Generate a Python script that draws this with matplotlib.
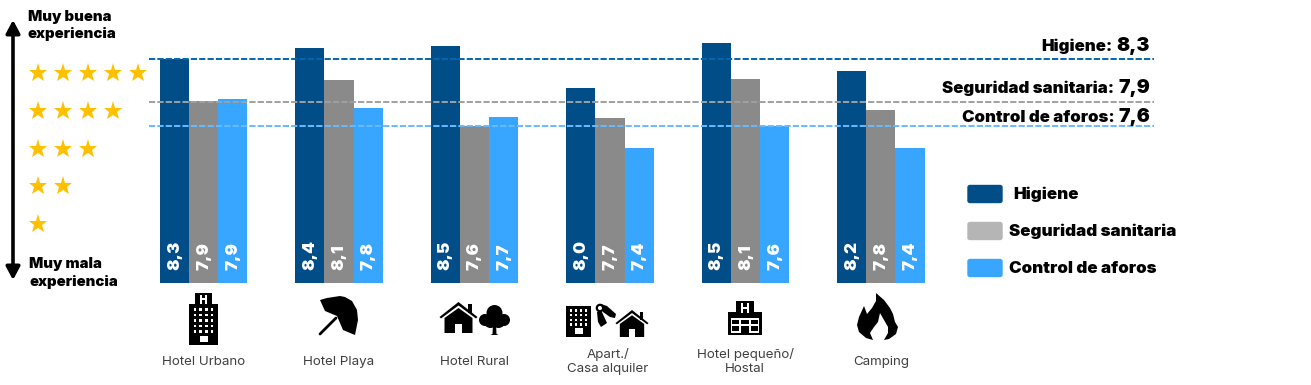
import matplotlib
matplotlib.use("Agg")
import matplotlib.pyplot as plt
from matplotlib.patches import Polygon, Rectangle, Circle, FancyBboxPatch

plt.rcParams['font.family'] = ['Inter', 'DejaVu Sans']

categories = ["Hotel Urbano", "Hotel Playa", "Hotel Rural", "Apart./\nCasa alquiler",
              "Hotel pequeño/\nHostal", "Camping"]
higiene = [8.30, 8.41, 8.43, 8.00, 8.46, 8.17]
seguridad = [7.86, 8.08, 7.60, 7.68, 8.09, 7.77]
aforos = [7.88, 7.79, 7.69, 7.37, 7.60, 7.37]
higiene_lbl = ["8,3", "8,4", "8,5", "8,0", "8,5", "8,2"]
seguridad_lbl = ["7,9", "8,1", "7,6", "7,7", "8,1", "7,8"]
aforos_lbl = ["7,9", "7,8", "7,7", "7,4", "7,6", "7,4"]
series = ["Higiene", "Seguridad sanitaria", "Control de aforos"]
averages = [8.3, 7.85, 7.6]
avg_lbl = ["8,3", "7,9", "7,6"]
star_rows = [5, 4, 3, 2, 1]

C = ["#004D88", "#8A8A8A", "#38A6FF"]
LINE = ["#0067B1", "#A0A0A0", "#66BBFF"]
LEG = ["#004D88", "#B5B5B5", "#38A6FF"]

W, H = 1311, 385
fig = plt.figure(figsize=(W / 100, H / 100), dpi=100)

# overlay in pixel coordinates
ov = fig.add_axes([0, 0, 1, 1], zorder=3)
ov.set_xlim(0, W); ov.set_ylim(H, 0); ov.axis('off'); ov.patch.set_alpha(0)

# data axes
L, R, T, B = 149, 1154, 0, 283
ax = fig.add_axes([L / W, 1 - B / H, (R - L) / W, (B - T) / H], zorder=1)
spacing, bw = 135.45, 29.2
ax.set_xlim((L - 203.6) / spacing, (R - 203.6) / spacing)
base = 5.965
ax.set_ylim(base, 7.6 + 126 / 96)
ax.axis('off')
w = bw / spacing
for i, (vals, lbls) in enumerate(zip([higiene, seguridad, aforos],
                                     [higiene_lbl, seguridad_lbl, aforos_lbl])):
    for k, (v, t) in enumerate(zip(vals, lbls)):
        x = k + (i - 1) * w
        ax.bar(x, v - base, bottom=base, width=w, color=C[i], linewidth=0, zorder=2)
        ax.annotate(t, (x, base), xytext=(0, 13), textcoords='offset pixels',
                    rotation=90, ha='center', va='bottom', color='white', fontsize=12.2,
                    fontweight='black', zorder=4)
for v, c in zip(averages, LINE):
    ax.axhline(v, color=c, lw=1.4, ls=(0, (3.2, 1.1)), zorder=3)

# average labels
for t, s, y in zip(avg_lbl, series, [51, 93, 122]):
    tx = ov.text(1150, y, t, ha='right', va='baseline', fontsize=14, fontweight='black', color='black')
    fig.canvas.draw()
    bb = tx.get_window_extent()
    ov.text(bb.x0 - 4, y, s + ":", ha='right', va='baseline', fontsize=12.1, fontweight='black', color='black')

# legend
for s, c, y, tx_x in zip(series, LEG, [194, 231, 268], [1013, 1009, 1009]):
    ov.add_patch(FancyBboxPatch((968, y - 8.5), 34, 17, boxstyle="round,pad=0,rounding_size=2",
                                fc=c, ec=c, lw=1))
    ov.text(tx_x, y + 5.3, s, ha='left', va='baseline', fontsize=12.2, fontweight='black', color='black')

# side labels, arrow and stars
ov.annotate("", xy=(13, 20), xytext=(13, 280),
            arrowprops=dict(arrowstyle='<|-|>,head_width=0.32,head_length=0.6', color='black', lw=2.6,
                            shrinkA=0, shrinkB=0, mutation_scale=13))
for y, t in [(20.5, "Muy buena"), (38, "experiencia"), (268, "Muy mala"), (286, "experiencia")]:
    ov.text(28 if y < 100 else 29, y, t, ha='left', va='baseline', fontsize=10.7, fontweight='black', color='black')
for r, n in enumerate(star_rows):
    for j in range(n):
        ov.plot(38 + 25 * j, 73 + 37.8 * r, marker='*', ms=14, color='#FFC000', mew=0, ls='none')

# category labels
for k, t in enumerate(categories):
    cx = 203.5 + spacing * k
    y = 362 if '\n' not in t else 361.5
    ov.text(cx + (0 if k != 3 else -2), y, t, ha='center', va='center', fontsize=9.6, color='#404040',
            linespacing=1.3, fontweight='normal')

def poly(pts, c='black'):
    ov.add_patch(Polygon(pts, closed=True, fc=c, ec='none'))
def rect(x, y, w_, h_, c='black'):
    ov.add_patch(Rectangle((x, y), w_, h_, fc=c, ec='none'))

def letterH(cx, cy, h_=9, w_=7):
    rect(cx - w_ / 2, cy - h_ / 2, 2, h_, 'white')
    rect(cx + w_ / 2 - 2, cy - h_ / 2, 2, h_, 'white')
    rect(cx - w_ / 2, cy - 1, w_, 2, 'white')

def tower(x, y, w_, h_, cols, rows):
    rect(x, y, w_, h_)
    px = w_ / (cols + 1)
    py = (h_ - 8) / (rows + 1)
    for a in range(cols):
        for b in range(rows):
            rect(x + px * (a + 1) - 1.2, y + py * (b + 1) - 1.2, 2.4, 2.4, 'white')
    rect(x + w_ / 2 - 4, y + h_ - 9, 8, 6, 'white')

def house(cx, base_y, s=1.0):
    rect(cx + 9*s, base_y - 29*s, 4*s, 9*s)
    poly([(cx - 19*s, base_y - 16*s), (cx, base_y - 31*s), (cx + 19*s, base_y - 16*s),
          (cx + 17.5*s, base_y - 14.5*s), (cx, base_y - 27.5*s), (cx - 17.5*s, base_y - 14.5*s)], 'black')
    poly([(cx - 14*s, base_y), (cx - 14*s, base_y - 15*s), (cx, base_y - 25*s), (cx + 14*s, base_y - 15*s), (cx + 14*s, base_y)])
    rect(cx - 3.5*s, base_y - 9*s, 7*s, 9*s, 'white')

def tree(cx, base_y):
    for dx, dy, r in [(0, -22, 8), (-9.5, -15, 6), (9.5, -15, 6), (-4, -14, 7), (4, -14, 7)]:
        ov.add_patch(Circle((cx + dx, base_y + dy), r, fc='black', ec='none'))
    poly([(cx - 1.5, base_y - 12), (cx + 1.5, base_y - 12), (cx + 2, base_y - 1), (cx + 4, base_y),
          (cx - 4, base_y), (cx - 2, base_y - 1)])

# hotel urbano
rect(195, 293, 17, 12); letterH(203.5, 299)
tower(189, 304, 29, 41, 4, 5)
# playa (umbrella)
poly([(320, 300), (327, 298), (340, 296), (345, 297), (352, 301), (357, 310), (358, 320), (355, 335),
      (343, 330), (337, 316), (325, 311)])
ov.plot([320, 336], [334, 318], color='black', lw=2, solid_capstyle='round')
# rural
house(458.5, 333); tree(494.5, 335)
# apart
tower(566, 306, 25, 31, 4, 4)
ov.add_patch(Circle((600, 308), 3.2, fc='none', ec='black', lw=1.6))
poly([(601, 304), (607, 306), (616, 314), (615, 318), (610, 317), (603, 312)])
poly([(597, 312), (601, 310), (607, 323), (601, 327), (598, 322)])
house(632, 337, 0.87)
# hostal
rect(736, 301, 18, 15); letterH(745, 308, 10, 8)
poly([(728, 312), (736, 312), (736, 316), (754, 316), (754, 312), (762, 312), (762, 335), (728, 335)])
rect(731, 318, 28, 15, 'white')
for xx, yy, ww, hh in [(732, 320, 7, 3.5), (741, 320, 8, 3.5), (751, 320, 7, 3.5),
                       (732, 326, 7, 4.5), (751, 326, 7, 4.5), (741, 326, 8, 7)]:
    rect(xx, yy, ww, hh)
# camping (flame)
poly([(876, 293), (884, 300), (890, 308), (893, 314), (895, 322), (898, 327), (896, 334),
      (889, 339), (884, 340), (888, 333), (888, 327), (884, 320), (880, 313), (878, 322),
      (874, 327), (870, 333), (873, 340), (866, 338), (859, 332), (857, 325), (859, 317),
      (864, 306), (867, 314), (872, 308), (876, 301)])

fig.savefig("out.png", dpi=100)
